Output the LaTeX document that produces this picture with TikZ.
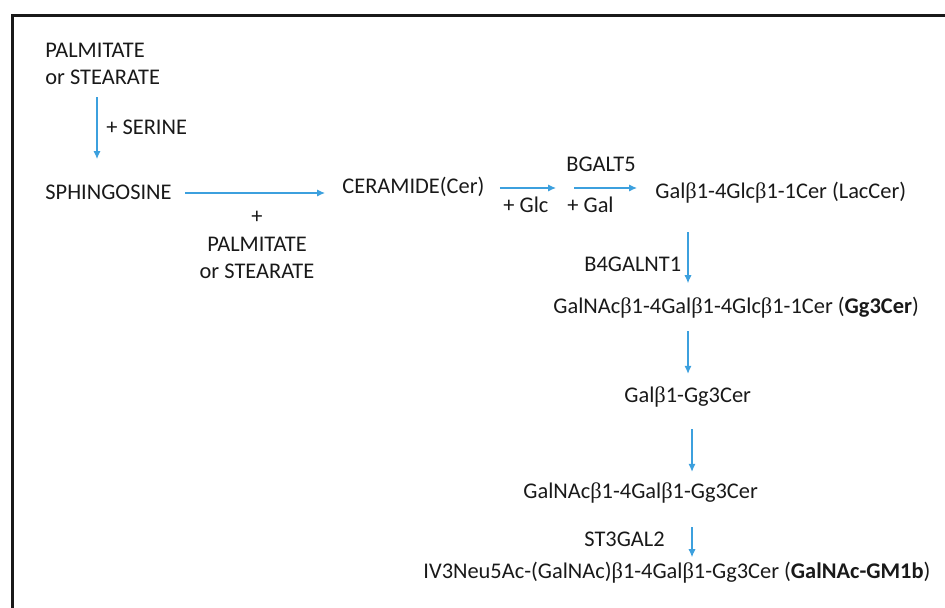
\documentclass[tikz,border=0pt]{standalone}
\usepackage{fontspec}
\setmainfont{Carlito}
\newfontfamily\greekfont{Liberation Serif}
\newcommand{\bt}{{\greekfont β}}
\usetikzlibrary{arrows.meta}
\definecolor{flowblue}{RGB}{60,160,222}
\definecolor{inkgray}{RGB}{25,25,25}

\begin{document}
\begin{tikzpicture}[x=0.5pt, y=-0.5pt,
    every node/.style={font=\fontsize{11.2pt}{13.5pt}\selectfont, text=inkgray, inner sep=0pt},
    chem/.style={anchor=base west},
    flow/.style={draw=flowblue, line width=0.6pt, -{Latex[length=4pt,width=3.6pt]}}]
    \useasboundingbox (0,0) rectangle (945,608);
    % frame
    \draw[inkgray, line width=1.2pt] (12.5,608) -- (12.5,15.5) -- (945,15.5);

    % columns for the vertical arrows
    \coordinate (colS) at (97,0);
    \coordinate (colA) at (688,0);
    \coordinate (colB) at (692,0);

    \node[anchor=north west, align=left] (palm) at (45,43) {PALMITATE\\or STEARATE};
    \node[chem] (sph) at (45,200) {SPHINGOSINE};
    \node[chem] (cer) at (342,194) {CERAMIDE(Cer)};
    \node[chem] (lac) at (655,199) {Gal\bt1-4Glc\bt1-1Cer (LacCer)};
    \node[chem] (gg3) at (553,314) {GalNAc\bt1-4Gal\bt1-4Glc\bt1-1Cer (\textbf{Gg3Cer})};
    \node[chem] (galgg) at (624,402) {Gal\bt1-Gg3Cer};
    \node[chem] (nacgg) at (523,498) {GalNAc\bt1-4Gal\bt1-Gg3Cer};
    \node[chem] (gm1b) at (423,578) {IV3Neu5Ac-(GalNAc)\bt1-4Gal\bt1-Gg3Cer (\textbf{GalNAc-GM1b})};

    % horizontal steps
    \coordinate (glc) at (556,188);
    \draw[flow, shorten <=6.5pt, shorten >=8.5pt] (sph.east |- 0,193) -- (cer.west |- 0,193);
    \draw[flow] (cer.east |- glc) ++(15,0) -- (glc);
    \draw[flow, shorten >=9pt] ([xshift=9]glc) -- (lac.west |- glc);
    \node[anchor=base] at (257,224) (plus) {+};
    \node[anchor=north, align=center] (acyl) at (257,237) {PALMITATE\\or STEARATE};
    \node[chem] (glclbl) at (503,213) {+ Glc};
    \node[chem] (gallbl) at (567,213) {+ Gal};
    \node[chem] (bgalt) at (566,172) {BGALT5};

    % vertical steps
    \draw[flow, shorten >=13pt] (palm.south -| colS) ++(0,12) -- (sph.north -| colS);
    \node[chem] (serine) at (106,135) {+ SERINE};
    \draw[flow, shorten <=14pt, shorten >=7pt] (lac.south -| colA) -- (gg3.north -| colA);
    \node[chem] (b4galnt) at (584,272) {B4GALNT1};
    \draw[flow, shorten <=6pt, shorten >=6pt] (gg3.south -| colA) -- (galgg.north -| colA);
    \draw[flow, shorten <=11pt, shorten >=5pt] (galgg.south -| colB) -- (nacgg.north -| colB);
    \draw[flow, shorten <=12pt, shorten >=2pt] (nacgg.south -| colB) -- (gm1b.north -| colB);
    \node[chem] (st3gal) at (584,546) {ST3GAL2};
\end{tikzpicture}
\end{document}
